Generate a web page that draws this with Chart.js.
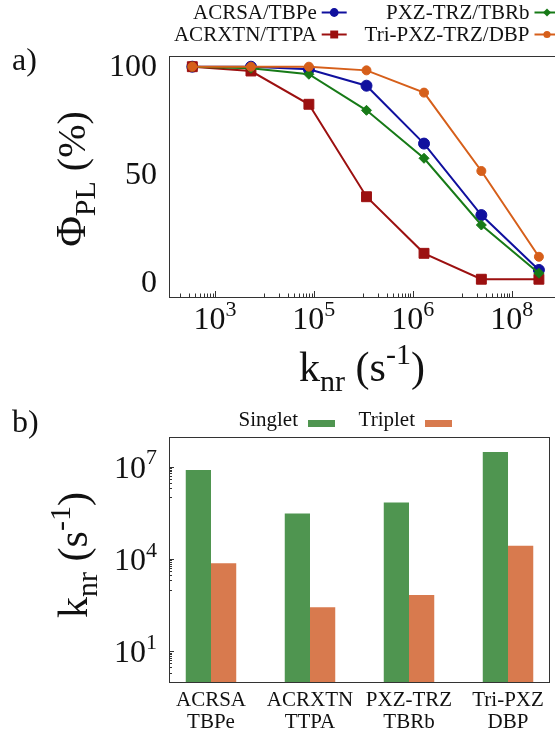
<!DOCTYPE html>
<html>
<head>
<meta charset="utf-8">
<script src="https://cdn.jsdelivr.net/npm/chart.js@4.4.1/dist/chart.umd.min.js"></script>
<style>
  html, body { margin: 0; padding: 0; background: #fff; width: 555px; height: 737px; overflow: hidden; }
  #chartA { position: absolute; left: 0; top: 0; }
  #chartB { position: absolute; left: 0; top: 390px; }
</style>
</head>
<body>
<canvas id="chartA" width="565" height="400"></canvas>
<canvas id="chartB" width="555" height="347"></canvas>
<script>
// ---- panel a data ----
var kValues = [348, 5340, 79300, 1.16e6, 1.69e7, 2.44e8, 3.56e9]
var acrsa  = [100, 100, 98.8, 91.2, 64.4, 31.3, 5.9]
var acrxtn = [100, 98.0, 82.6, 39.8, 13.6, 1.6, 1.6]
var pxztrz = [100, 99.3, 96.5, 79.8, 57.6, 26.7, 4.4]
var tripxz = [100, 100, 100, 98.3, 88.0, 51.7, 12.0]
var seriesNames = ['ACRSA/TBPe', 'ACRXTN/TTPA', 'PXZ-TRZ/TBRb', 'Tri-PXZ-TRZ/DBP']
var xTickValues = [1e3, 1e5, 1e7, 1e9]
var xTickExponents = ['3', '5', '6', '8']
var yTicksA = [0, 50, 100]

// ---- panel b data ----
var hosts  = ['ACRSA', 'ACRXTN', 'PXZ-TRZ', 'Tri-PXZ']
var guests = ['TBPe', 'TTPA', 'TBRb', 'DBP']
var singlet = [7.8e6, 2.98e5, 6.8e5, 3.0e7]
var triplet = [7.2e3, 268, 678, 2.7e4]
var yTicksB = [10, 1e4, 1e7]
var yTickExponentsB = ['1', '4', '7']

// styles
var serif = '"Liberation Serif", "DejaVu Serif", serif'
var lineColors = ['#10109e', '#9c1010', '#177a17', '#d65f1a']
var markers = ['circle', 'rect', 'rectRot', 'circle']
var radii = [5.5, 7, 5, 4.5]
var barColors = ['#4f9550', '#d87a4e']

function drawRich(ctx, parts, x, y, align, angle) {
  ctx.save()
  ctx.translate(x, y)
  if (angle) ctx.rotate(angle)
  ctx.textBaseline = 'alphabetic'
  ctx.textAlign = 'left'
  ctx.fillStyle = '#111'
  var w = 0
  var widths = []
  parts.forEach(function (p) {
    ctx.font = p[1] + 'px ' + serif
    var pw = ctx.measureText(p[0]).width
    widths.push(pw)
    w += pw
  })
  var cx = align === 'right' ? -w : align === 'center' ? -w / 2 : 0
  parts.forEach(function (p, i) {
    ctx.font = p[1] + 'px ' + serif
    ctx.fillText(p[0], cx, p[2])
    cx += widths[i]
  })
  ctx.restore()
}

function pow10(exp, size) {
  return [['10', size, 0], [exp, Math.round(size * 0.68), -size * 0.42]]
}

function knrTitle() {
  return [['k', 42, 0], ['nr', 30, 10], [' (s', 42, 0], ['-1', 30, -17], [')', 42, 0]]
}

function drawMarker(ctx, style, r, x, y, color) {
  ctx.save()
  ctx.fillStyle = color
  ctx.beginPath()
  if (style === 'circle') {
    ctx.arc(x, y, r, 0, Math.PI * 2)
  } else if (style === 'rect') {
    var s = r * Math.SQRT1_2
    ctx.rect(x - s, y - s, 2 * s, 2 * s)
  } else {
    ctx.moveTo(x - r, y); ctx.lineTo(x, y - r); ctx.lineTo(x + r, y); ctx.lineTo(x, y + r); ctx.closePath()
  }
  ctx.fill()
  ctx.restore()
}

function tickLine(ctx, x1, y1, x2, y2) {
  ctx.beginPath()
  ctx.moveTo(x1, y1)
  ctx.lineTo(x2, y2)
  ctx.stroke()
}

// ---- panel a ----
var decoA = {
  id: 'decoA',
  afterDraw: function (chart) {
    var ctx = chart.ctx
    var a = chart.chartArea
    var xs = chart.scales.x
    var ys = chart.scales.y
    ctx.save()
    ctx.strokeStyle = '#333'
    ctx.lineWidth = 1
    ctx.strokeRect(a.left + 0.5, a.top + 0.5, a.right - a.left, a.bottom - a.top)
    // inward log ticks
    xTickValues.forEach(function (m) {
      for (var k = 1; k <= 10; k++) {
        var v = k * m / 10
        if (v < xs.min || v > xs.max) continue
        var px = Math.round(xs.getPixelForValue(v)) + 0.5
        tickLine(ctx, px, a.bottom, px, a.bottom - (k === 10 ? 6 : 3.5))
      }
    })
    xTickValues.forEach(function (m, i) {
      drawRich(ctx, pow10(xTickExponents[i], 32), xs.getPixelForValue(m), a.bottom + 32, 'center')
    })
    yTicksA.forEach(function (v) {
      ctx.font = '32px ' + serif
      ctx.fillStyle = '#111'
      ctx.textAlign = 'right'
      ctx.textBaseline = 'middle'
      ctx.fillText(String(v), a.left - 12, ys.getPixelForValue(v) + 1)
    })
    // axis titles
    drawRich(ctx, knrTitle(), 362, 381, 'center')
    drawRich(ctx, [['\u03a6', 42, 0], ['PL', 30, 10], [' (%)', 40, 0]], 85, 179, 'center', -Math.PI / 2)
    // panel label
    ctx.font = '32px ' + serif
    ctx.fillStyle = '#111'
    ctx.textAlign = 'left'
    ctx.textBaseline = 'alphabetic'
    ctx.fillText('a)', 12, 70)
    // legend: text first, then line with marker
    var colRight = [316.7, 529.5]
    var rowY = [12.5, 34.5]
    chart.data.datasets.forEach(function (ds, i) {
      var col = i < 2 ? 0 : 1
      var row = i % 2
      var x = colRight[col]
      var y = rowY[row]
      ctx.font = '21px ' + serif
      ctx.fillStyle = '#111'
      ctx.textAlign = 'right'
      ctx.textBaseline = 'middle'
      ctx.fillText(ds.label, x, y + 1)
      ctx.strokeStyle = ds.borderColor
      ctx.lineWidth = 2
      tickLine(ctx, x + 5, y, x + 30, y)
      drawMarker(ctx, ds.pointStyle, ds.pointRadius * 0.8, x + 17.5, y, ds.borderColor)
    })
    ctx.restore()
  }
}

var seriesValues = [acrsa, acrxtn, pxztrz, tripxz]

new Chart(document.getElementById('chartA'), {
  type: 'line',
  data: {
    datasets: seriesNames.map(function (name, i) {
      return {
        label: name,
        data: kValues.map(function (k, j) { return { x: k, y: seriesValues[i][j] } }),
        borderColor: lineColors[i],
        backgroundColor: lineColors[i],
        pointBackgroundColor: lineColors[i],
        pointBorderColor: lineColors[i],
        pointStyle: markers[i],
        pointRadius: radii[i],
        pointBorderWidth: 1,
        borderWidth: 2,
        tension: 0,
        order: 3 - i
      }
    })
  },
  options: {
    responsive: false,
    animation: false,
    layout: { autoPadding: false, padding: { top: 56, left: 0, right: 0, bottom: 0 } },
    plugins: { legend: { display: false }, tooltip: { enabled: false } },
    scales: {
      x: {
        type: 'logarithmic', min: 117.5, max: 1.2e10, bounds: 'data',
        ticks: { display: false }, grid: { display: false }, border: { display: false },
        afterBuildTicks: function (s) { s.ticks = xTickValues.map(function (v) { return { value: v } }) },
        afterFit: function (s) { s.height = 103 }
      },
      y: {
        type: 'linear', min: -6.62, max: 104.95, bounds: 'data',
        ticks: { display: false }, grid: { display: false }, border: { display: false },
        afterBuildTicks: function (s) { s.ticks = yTicksA.map(function (v) { return { value: v } }) },
        afterFit: function (s) { s.width = 169 }
      }
    }
  },
  plugins: [decoA]
})

// ---- panel b ----
var decoB = {
  id: 'decoB',
  afterDraw: function (chart) {
    var ctx = chart.ctx
    var a = chart.chartArea
    var xs = chart.scales.x
    var ys = chart.scales.y
    ctx.save()
    ctx.strokeStyle = '#333'
    ctx.lineWidth = 1
    ctx.strokeRect(a.left + 0.5, a.top + 0.5, a.right - a.left, a.bottom - a.top)
    yTicksB.forEach(function (m, i) {
      for (var k = 1; k <= 10; k++) {
        var v = k * m / 10
        if (v < ys.min || v > ys.max) continue
        var py = Math.round(ys.getPixelForValue(v)) + 0.5
        tickLine(ctx, a.left, py, a.left + (k === 10 ? 5 : 3), py)
      }
      drawRich(ctx, pow10(yTickExponentsB[i], 32), a.left - 12, ys.getPixelForValue(m) + 11, 'right')
    })
    hosts.forEach(function (h, i) {
      var px = xs.getPixelForValue(i)
      ctx.font = '21px ' + serif
      ctx.fillStyle = '#111'
      ctx.textAlign = 'center'
      ctx.textBaseline = 'middle'
      ctx.fillText(h, px, a.bottom + 18)
      ctx.fillText(guests[i], px, a.bottom + 40)
    })
    drawRich(ctx, knrTitle(), 87, 165, 'center', -Math.PI / 2)
    ctx.font = '32px ' + serif
    ctx.fillStyle = '#111'
    ctx.textAlign = 'left'
    ctx.textBaseline = 'alphabetic'
    ctx.fillText('b)', 12, 42)
    // legend: label then box
    var textRight = [298, 415]
    chart.data.datasets.forEach(function (ds, i) {
      ctx.font = '21px ' + serif
      ctx.fillStyle = '#111'
      ctx.textAlign = 'right'
      ctx.textBaseline = 'middle'
      ctx.fillText(ds.label, textRight[i], 30)
      ctx.fillStyle = ds.backgroundColor
      ctx.fillRect(textRight[i] + 10, 30, 27, 7)
    })
    ctx.restore()
  }
}

new Chart(document.getElementById('chartB'), {
  type: 'bar',
  data: {
    datasets: [
      { label: 'Singlet', data: singlet.map(function (v, i) { return { x: i, y: v } }), backgroundColor: barColors[0] },
      { label: 'Triplet', data: triplet.map(function (v, i) { return { x: i, y: v } }), backgroundColor: barColors[1] }
    ]
  },
  options: {
    responsive: false,
    animation: false,
    categoryPercentage: 0.51,
    barPercentage: 1.0,
    layout: { autoPadding: false, padding: { top: 47, left: 0, right: 6, bottom: 0 } },
    plugins: { legend: { display: false }, tooltip: { enabled: false } },
    scales: {
      x: {
        type: 'linear', min: -0.4242, max: 3.414, offset: false, bounds: 'data',
        ticks: { display: false }, grid: { display: false }, border: { display: false },
        afterBuildTicks: function (s) { s.ticks = hosts.map(function (h, i) { return { value: i } }) },
        afterFit: function (s) { s.height = 55 }
      },
      y: {
        type: 'logarithmic', min: 1, max: 9.2e7, bounds: 'data',
        ticks: { display: false }, grid: { display: false }, border: { display: false },
        afterBuildTicks: function (s) { s.ticks = yTicksB.map(function (v) { return { value: v } }) },
        afterFit: function (s) { s.width = 169 }
      }
    }
  },
  plugins: [decoB]
})
</script>
</body>
</html>
